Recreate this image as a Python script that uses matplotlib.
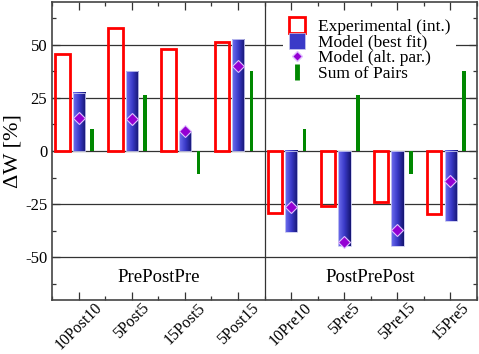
import numpy as np
import matplotlib
matplotlib.use("Agg")
import matplotlib.pyplot as plt
from matplotlib.patches import Rectangle
from matplotlib.lines import Line2D
from matplotlib.ticker import MultipleLocator
from matplotlib.colors import LinearSegmentedColormap

categories = ["10Post10", "5Post5", "15Post5", "5Post15",
              "10Pre10", "5Pre5", "5Pre15", "15Pre5"]
experimental = [45.5, 57.7, 47.7, 51.1, -29.2, -25.9, -23.9, -29.4]
model_best = [27.4, 37.5, 9.2, 52.4, -38.1, -44.4, -44.4, -33.0]
model_alt = [15.6, 15.2, 9.2, 40.0, -26.2, -42.8, -37.0, -14.0]
sum_pairs = [10.2, 26.4, -10.6, 37.5, 10.2, 26.4, -10.6, 37.5]
groups = ["PrePostPre", "PostPrePost"]

plt.rcParams['font.family'] = ['Liberation Serif', 'DejaVu Serif']
plt.rcParams['mathtext.fontset'] = 'stix'

fig = plt.figure(figsize=(4.79, 3.54), dpi=100)
ax = fig.add_axes([52/479, 54/354, (477-52)/479, (300-2)/354])

x = np.arange(1, len(categories) + 1)
cmap = LinearSegmentedColormap.from_list("bl", ["#7070f0", "#3a3ac8", "#141470"])
grad = np.linspace(0, 1, 64).reshape(1, -1)

for xi, e, m, a, s in zip(x, experimental, model_best, model_alt, sum_pairs):
    ax.add_patch(Rectangle((xi - 0.44, 0), 0.27, e, facecolor='none',
                           edgecolor='#ff0000', linewidth=2.0, zorder=3))
    lo, hi = sorted([0, m])
    ax.imshow(grad, cmap=cmap, extent=(xi - 0.11, xi + 0.12, lo, hi),
              aspect='auto', zorder=3, interpolation='bilinear')
    ax.add_patch(Rectangle((xi - 0.11, 0), 0.23, m, facecolor='none',
                           edgecolor='#c8c8f0', linewidth=0.6, zorder=3))
    ax.add_patch(Rectangle((xi + 0.22, 0), 0.07, s, facecolor='#008800',
                           edgecolor='none', zorder=3))
    ax.plot([xi], [a], marker='D', markersize=6, color='#9400d3',
            markeredgecolor='#e0c0ff', markeredgewidth=0.8, zorder=5,
            linestyle='none')

ax.set_xlim(0.5, 8.5)
ax.set_ylim(-70, 70)
for yv in [-50, -25, 0, 25, 50]:
    ax.axhline(yv, color='#333333', linewidth=0.9, zorder=1)
ax.axvline(4.5, color='#333333', linewidth=0.9, zorder=1)

ax.set_xticks(x)
ax.set_xticklabels(categories, rotation=45, ha='center', va='top',
                   fontsize=11.5)
ax.xaxis.set_minor_locator(MultipleLocator(0.5))
ax.set_yticks([-50, -25, 0, 25, 50])
ax.set_yticklabels(["-50", "-25", "0", "25", "50"], fontsize=12)
ax.yaxis.set_minor_locator(MultipleLocator(12.5))
ax.tick_params(which='both', direction='in', top=True, right=True, color='#333333')
ax.tick_params(which='major', length=6, width=0.9)
ax.tick_params(which='minor', length=3, width=0.9)
ax.tick_params(axis='x', pad=0)
for sp in ax.spines.values():
    sp.set_color('#444444')
    sp.set_linewidth(1.2)

ax.set_ylabel("ΔW [%]", fontsize=16, labelpad=2)

ax.text(2.5, -59.4, groups[0], ha='center', va='center', fontsize=13.5)
ax.text(6.5, -59.4, groups[1], ha='center', va='center', fontsize=13.5)

handles = [
    Line2D([], [], marker='s', markersize=11, markerfacecolor='white',
           markeredgecolor='#ff0000', markeredgewidth=2, linestyle='none'),
    Line2D([], [], marker='s', markersize=11, markerfacecolor='#3a3ac8',
           markeredgecolor='#c8c8f0', markeredgewidth=0.5, linestyle='none'),
    Line2D([], [], marker='D', markersize=5, color='#9400d3',
           markeredgecolor='#e0c0ff', linestyle='none'),
    Line2D([], [], marker='|', markersize=11, markeredgewidth=3.5,
           color='#008800', linestyle='none'),
]
labels = ["Experimental (int.)", "Model (best fit)", "Model (alt. par.)", "Sum of Pairs"]
leg = ax.legend(handles, labels, loc='upper right', bbox_to_anchor=(0.97, 0.99),
                frameon=True, fontsize=12.5, handlelength=1.0, handletextpad=0.7,
                labelspacing=-0.03, borderpad=0.3, framealpha=1)
leg.get_frame().set_edgecolor('none')
leg.get_frame().set_facecolor('white')
leg.set_zorder(6)

fig.savefig("out.png", dpi=100)
